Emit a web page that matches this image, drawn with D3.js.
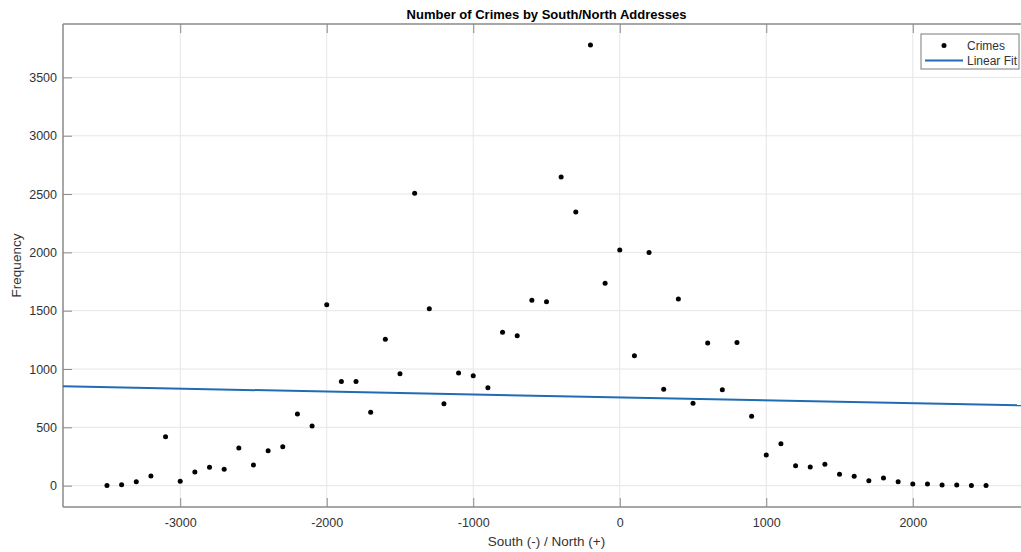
<!DOCTYPE html>
<html>
<head>
<meta charset="utf-8">
<script src="https://cdn.jsdelivr.net/npm/d3@7"></script>
<style>
  body { margin: 0; background: #fff; overflow: hidden; }
  text { font-family: "Liberation Sans", Arial, Helvetica, sans-serif; }
</style>
</head>
<body>
<div id="chart"></div>
<script>
// address block (south negative, north positive)
const addressBlocks = [
  -3500, -3400, -3300, -3200, -3100, -3000, -2900, -2800, -2700, -2600,
  -2500, -2400, -2300, -2200, -2100, -2000, -1900, -1800, -1700, -1600,
  -1500, -1400, -1300, -1200, -1100, -1000, -900, -800, -700, -600,
  -500, -400, -300, -200, -100, 0, 100, 200, 300, 400,
  500, 600, 700, 800, 900, 1000, 1100, 1200, 1300, 1400,
  1500, 1600, 1700, 1800, 1900, 2000, 2100, 2200, 2300, 2400, 2500
];
const crimeCounts = [
  2, 8, 34, 83, 420, 38, 117, 158, 140, 323,
  177, 300, 334, 614, 512, 1550, 892, 892, 629, 1255,
  960, 2506, 1517, 703, 966, 943, 840, 1315, 1286, 1589,
  1577, 2646, 2346, 3778, 1735, 2020, 1114, 2000, 826, 1600,
  706, 1223, 823, 1228, 595, 263, 360, 171, 160, 183,
  98, 80, 43, 66, 34, 15, 15, 6, 6, 2, 1
];
// linear fit
const fitIntercept = 757;
const fitSlope = -0.0249;

const xTicks = [-3000, -2000, -1000, 0, 1000, 2000];
const yTicks = [0, 500, 1000, 1500, 2000, 2500, 3000, 3500];
const xDomain = [-3800, 2800];
const yDomain = [-183, 3958];

const width = 1021, height = 552;
const margin = { left: 63, right: -9, top: 24, bottom: 45 };
const innerW = width - margin.left - margin.right;
const innerH = height - margin.top - margin.bottom;

const svg = d3.select("#chart").append("svg")
  .attr("width", width).attr("height", height);

const x = d3.scaleLinear().domain(xDomain).range([margin.left, margin.left + innerW]);
const y = d3.scaleLinear().domain(yDomain).range([margin.top + innerH, margin.top]);

const axisColor = "#8a8a8a";
const gridColor = "#e6e6e6";
const tickLen = 9;
const plainNum = d => String(d);

// grid
svg.append("g").selectAll("line").data(xTicks).join("line")
  .attr("x1", d => x(d)).attr("x2", d => x(d))
  .attr("y1", margin.top).attr("y2", margin.top + innerH)
  .attr("stroke", gridColor).attr("stroke-width", 1);
svg.append("g").selectAll("line").data(yTicks).join("line")
  .attr("x1", margin.left).attr("x2", margin.left + innerW)
  .attr("y1", d => y(d)).attr("y2", d => y(d))
  .attr("stroke", gridColor).attr("stroke-width", 1);

// axes (ticks inward, like matlab)
const xAxis = svg.append("g")
  .attr("transform", `translate(0,${margin.top + innerH})`)
  .call(d3.axisBottom(x).tickValues(xTicks).tickFormat(plainNum).tickSize(-tickLen).tickPadding(11));
const xAxisTop = svg.append("g")
  .attr("transform", `translate(0,${margin.top})`)
  .call(d3.axisTop(x).tickValues(xTicks).tickSize(-tickLen).tickFormat(""));
const yAxis = svg.append("g")
  .attr("transform", `translate(${margin.left},0)`)
  .call(d3.axisLeft(y).tickValues(yTicks).tickFormat(plainNum).tickSize(-tickLen).tickPadding(6));

[xAxis, xAxisTop, yAxis].forEach(g => {
  g.select(".domain").remove();
  g.selectAll(".tick line").attr("stroke", axisColor);
  g.selectAll("text").attr("fill", "#333").style("font-size", "12.5px")
    .style("font-family", '"Liberation Sans", Arial, sans-serif');
});
// axis lines
svg.append("line")
  .attr("x1", margin.left).attr("x2", margin.left + innerW)
  .attr("y1", margin.top + innerH).attr("y2", margin.top + innerH)
  .attr("stroke", axisColor).attr("stroke-width", 1.5);
svg.append("line")
  .attr("x1", margin.left).attr("x2", margin.left + innerW)
  .attr("y1", margin.top).attr("y2", margin.top)
  .attr("stroke", axisColor).attr("stroke-width", 1.5);
svg.append("line")
  .attr("x1", margin.left).attr("x2", margin.left)
  .attr("y1", margin.top).attr("y2", margin.top + innerH)
  .attr("stroke", axisColor).attr("stroke-width", 1.5);

// clip
svg.append("clipPath").attr("id", "plotClip").append("rect")
  .attr("x", margin.left).attr("y", margin.top).attr("width", innerW).attr("height", innerH);

// linear fit line
const fitLine = d3.line().x(d => x(d)).y(d => y(fitIntercept + fitSlope * d));
svg.append("path")
  .datum(xDomain)
  .attr("clip-path", "url(#plotClip)")
  .attr("d", fitLine)
  .attr("stroke", "#1f6cb3").attr("stroke-width", 2).attr("fill", "none");

// data points
const points = addressBlocks.map((a, i) => ({ a, c: crimeCounts[i] }));
svg.append("g").selectAll("circle").data(points).join("circle")
  .attr("cx", d => x(d.a)).attr("cy", d => y(d.c))
  .attr("r", 2.5).attr("fill", "#000");

// title and labels
const plotCenter = margin.left + innerW / 2;
svg.append("text")
  .attr("x", plotCenter).attr("y", 19)
  .attr("text-anchor", "middle")
  .style("font-size", "13px").style("font-weight", "bold").attr("fill", "#000")
  .text("Number of Crimes by South/North Addresses");

svg.append("text")
  .attr("x", plotCenter).attr("y", 546)
  .attr("text-anchor", "middle")
  .style("font-size", "13.5px").attr("fill", "#333")
  .text("South (-) / North (+)");

svg.append("text")
  .attr("transform", `translate(21,${margin.top + innerH / 2}) rotate(-90)`)
  .attr("text-anchor", "middle")
  .style("font-size", "13.5px").attr("fill", "#333")
  .text("Frequency");

// legend
const legend = svg.append("g").attr("transform", "translate(921,34)");
legend.append("rect")
  .attr("width", 98).attr("height", 35)
  .attr("fill", "#fff").attr("stroke", "#7a7a7a").attr("stroke-width", 1);
legend.append("circle").attr("cx", 23).attr("cy", 11.5).attr("r", 2.5).attr("fill", "#000");
legend.append("line").attr("x1", 4).attr("x2", 42).attr("y1", 26.5).attr("y2", 26.5)
  .attr("stroke", "#1f6cb3").attr("stroke-width", 2);
legend.append("text").attr("x", 46).attr("y", 15.5)
  .style("font-size", "12px").attr("fill", "#333").text("Crimes");
legend.append("text").attr("x", 46).attr("y", 30.5)
  .style("font-size", "12px").attr("fill", "#333").text("Linear Fit");
</script>
</body>
</html>
